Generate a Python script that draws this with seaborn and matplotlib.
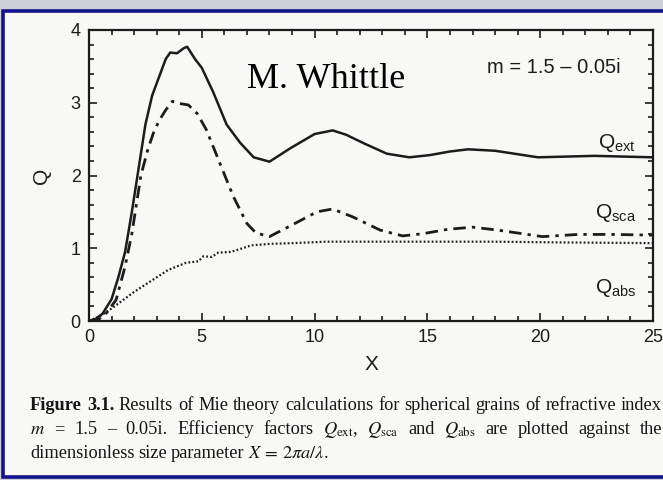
import numpy as np
import pandas as pd
import matplotlib
matplotlib.use("Agg")
import matplotlib.pyplot as plt
import seaborn as sns
from matplotlib.patches import Rectangle

# ---------------- data ----------------
x_ext = [0, 0.3, 0.6, 1.0, 1.3, 1.6, 1.9, 2.2, 2.5, 2.8, 3.1, 3.4, 3.6, 3.9, 4.2, 4.35,
         4.7, 5.0, 5.5, 6.1, 6.7, 7.3, 8.0, 8.9, 10.0, 10.8, 11.4, 12.2, 13.2, 14.2,
         15.1, 16.0, 16.8, 18.0, 19.9, 22.4, 25]
q_ext = [0, 0.03, 0.1, 0.3, 0.6, 0.95, 1.5, 2.1, 2.7, 3.1, 3.35, 3.6, 3.69, 3.68, 3.75, 3.77,
         3.6, 3.48, 3.15, 2.7, 2.45, 2.25, 2.19, 2.37, 2.57, 2.62, 2.56, 2.44, 2.30, 2.25,
         2.28, 2.33, 2.36, 2.34, 2.25, 2.27, 2.25]

x_sca = [0, 0.4, 0.7, 1.2, 1.6, 1.9, 2.1, 2.3, 2.6, 2.85, 3.1, 3.4, 3.7, 4.0, 4.4, 4.8,
         5.2, 5.8, 6.4, 7.0, 7.4, 8.0, 9.0, 10.1, 10.8, 11.7, 12.9, 13.9, 14.8, 15.9,
         17.0, 18.1, 20.1, 21.7, 23.2, 25]
q_sca = [0, 0.02, 0.08, 0.29, 0.75, 1.2, 1.6, 2.0, 2.35, 2.58, 2.75, 2.9, 3.02, 2.99, 2.97, 2.85,
         2.63, 2.17, 1.71, 1.34, 1.21, 1.16, 1.32, 1.50, 1.54, 1.43, 1.25, 1.17, 1.20, 1.26,
         1.29, 1.25, 1.16, 1.19, 1.19, 1.18]

x_abs = [0, 0.5, 0.9, 1.3, 2.0, 2.8, 3.5, 4.3, 4.85, 5.07, 5.44, 5.73, 6.3, 7.2, 8.0, 9.0,
         10.5, 12.0, 15, 18, 21, 25]
q_abs = [0, 0.07, 0.15, 0.24, 0.40, 0.56, 0.70, 0.80, 0.82, 0.89, 0.88, 0.94, 0.95, 1.04, 1.06, 1.07,
         1.09, 1.09, 1.09, 1.09, 1.08, 1.07]

x_ticks = [0, 5, 10, 15, 20, 25]
y_ticks = [0, 1, 2, 3, 4]
series_labels = [r"Q$_{\mathrm{ext}}$", r"Q$_{\mathrm{sca}}$", r"Q$_{\mathrm{abs}}$"]
label_values = [2.45, 1.48, 0.45]

# ---------------- style ----------------
sns.set_style("ticks")
plt.rcParams["font.family"] = ["Liberation Sans", "DejaVu Sans"]
plt.rcParams["mathtext.fontset"] = "custom"
plt.rcParams["mathtext.rm"] = "Liberation Sans"
plt.rcParams["mathtext.it"] = "Liberation Sans:italic"
plt.rcParams["mathtext.bf"] = "Liberation Sans:bold"

W, H = 663, 480
fig = plt.figure(figsize=(W / 100, H / 100), dpi=100)
fig.patch.set_facecolor("#cfcfd9")

# page + blue frame
fig.patches.append(Rectangle((3 / W, 3 / H), 1.2, (466) / H, transform=fig.transFigure,
                             facecolor="#f8f8f6", edgecolor="#14148a", linewidth=2.6, zorder=-5))

ax = fig.add_axes([89 / W, 1 - 321 / H, (653 - 89) / W, (321 - 30) / H])
ax.set_zorder(3)
ax.set_facecolor("none")

ink = "#1c1c1c"
df_ext = pd.DataFrame({"X": x_ext, "Q": q_ext})
df_sca = pd.DataFrame({"X": x_sca, "Q": q_sca})
df_abs = pd.DataFrame({"X": x_abs, "Q": q_abs})
sns.lineplot(data=df_ext, x="X", y="Q", ax=ax, color=ink, linewidth=1.8, sort=False, estimator=None)
sns.lineplot(data=df_sca, x="X", y="Q", ax=ax, color=ink, linewidth=2.0, sort=False, estimator=None,
             linestyle=(0, (4.5, 2.2, 1.2, 2.2)))
sns.lineplot(data=df_abs, x="X", y="Q", ax=ax, color=ink, linewidth=1.6, sort=False, estimator=None,
             linestyle=(0, (0.8, 1.0)))

ax.set_xlim(0, 25)
ax.set_ylim(0, 4)
ax.set_xticks(x_ticks)
ax.set_yticks(y_ticks)
ax.set_xticks(np.arange(0, 26, 1), minor=True)
ax.set_yticks(np.arange(0, 4.01, 0.2), minor=True)
ax.tick_params(which="both", direction="in", top=True, right=True, color=ink, width=1.2)
ax.tick_params(which="major", length=6, labelsize=13, pad=6, labelcolor=ink)
ax.tick_params(which="minor", length=3.5)
for s in ax.spines.values():
    s.set_linewidth(1.6)
    s.set_color(ink)
ax.set_xlabel("X", fontsize=15, labelpad=6, color=ink)
ax.set_ylabel("Q", fontsize=15, labelpad=14, color=ink)

for lab, v in zip(series_labels, label_values):
    ax.text(24.25, v, lab, fontsize=15, ha="right", va="center", color=ink)

ax.text(0.825, 0.87, "m = 1.5 \u2013 0.05i", transform=ax.transAxes, fontsize=14.5,
        ha="center", va="center", color=ink)
ax.text(0.42, 0.83, "M. Whittle", transform=ax.transAxes, fontsize=26,
        family="Liberation Serif", ha="center", va="center", color="black")

# ---------------- caption (justified) ----------------
serif = {"family": "Liberation Serif", "math_fontfamily": "stix"}
fs_cap = 13.2
bold = dict(serif, weight="bold")
line1 = [("Figure", bold), ("3.1.", bold)] + [(w, serif) for w in
         "Results of Mie theory calculations for spherical grains of refractive index".split()]
line2 = [(w, serif) for w in ["$m$", "=", "1.5", "\u2013", "0.05i.", "Efficiency", "factors",
                                 r"$Q_{\mathrm{ext}}$,", r"$Q_{\mathrm{sca}}$", "and",
                                 r"$Q_{\mathrm{abs}}$", "are", "plotted", "against", "the"]]
line3 = [(w, serif) for w in ["dimensionless", "size", "parameter", r"$X\,=\,2\pi a/\lambda$."]]

fig.canvas.draw()
rend = fig.canvas.get_renderer()


def place(words, y_px, x0, x1=None):
    texts = [fig.text(0, 1 - y_px / H, w, fontsize=fs_cap, color="#151515", va="baseline", **p)
             for w, p in words]
    widths = [t.get_window_extent(rend).width for t in texts]
    if x1 is None:
        gap = fs_cap * 0.28
    else:
        gap = (x1 - x0 - sum(widths)) / (len(words) - 1)
    x = x0
    for t, w in zip(texts, widths):
        t.set_x(x / W)
        x += w + gap


place(line1, 410, 30, 662)
place(line2, 434, 30, 662)
place(line3, 458, 30)

fig.savefig("out.png", dpi=100, facecolor=fig.get_facecolor())
